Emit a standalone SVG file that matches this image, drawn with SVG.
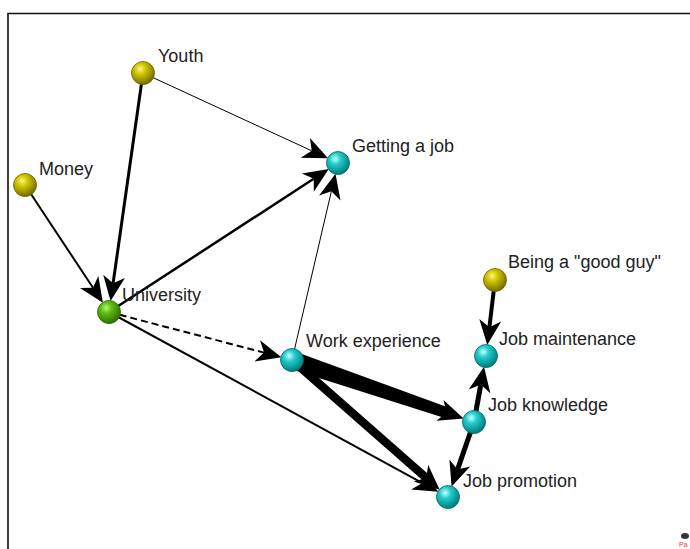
<svg xmlns="http://www.w3.org/2000/svg" width="690" height="549" viewBox="0 0 690 549">
<style>
.lbl{font-family:"Liberation Sans",Arial,sans-serif;font-size:18px;fill:#222}
.e{fill:none;stroke:#000;marker-end:url(#ah)}
.node{stroke-width:0.8}
</style>
<defs>
<marker id="ah" markerUnits="userSpaceOnUse" markerWidth="40" markerHeight="40" refX="0" refY="0" orient="auto" overflow="visible">
<path d="M18,0 L-7,-11 L0,0 L-7,11 Z" fill="#000"/>
</marker>
<radialGradient id="gc" cx="38%" cy="32%" r="70%">
<stop offset="0" stop-color="#c8ffff"/>
<stop offset="0.35" stop-color="#22cccc"/>
<stop offset="1" stop-color="#007a7a"/>
</radialGradient>
<radialGradient id="gy" cx="38%" cy="32%" r="70%">
<stop offset="0" stop-color="#fbf57a"/>
<stop offset="0.35" stop-color="#cfc400"/>
<stop offset="1" stop-color="#716a00"/>
</radialGradient>
<radialGradient id="gg" cx="38%" cy="32%" r="70%">
<stop offset="0" stop-color="#b8f27a"/>
<stop offset="0.35" stop-color="#5dbd10"/>
<stop offset="1" stop-color="#2f6d00"/>
</radialGradient>
</defs>
<rect width="690" height="549" fill="#fff"/>
<path d="M8,549 V13.5 H690" fill="none" stroke="#111" stroke-width="1.6"/>
<g id="connectors">
<path class="e" d="M143,73 L311.7,150.8" stroke-width="1"/>
<path class="e" d="M143,73 L113.1,283.3" stroke-width="3"/>
<path class="e" d="M25,185 L93,287.8" stroke-width="2"/>
<path class="e" d="M109,312 L313.7,178.8" stroke-width="2.5"/>
<path class="e" d="M109,312 L264,352.6" stroke-width="2" stroke-dasharray="7,4"/>
<path class="e" d="M109,312 L422.5,483.1" stroke-width="2"/>
<path class="e" d="M292,360 L331.4,191.2" stroke-width="1"/>
<polygon points="289.1,368.5 294.9,351.5 449.8,408 446.2,418.4" fill="#000"/>
<path class="e" d="M292,360 L446.6,412.7" stroke="none"/>
<path class="e" d="M292,360 L426.2,477.9" stroke-width="8.5"/>
<path class="e" d="M474,422 L480.8,384.5" stroke-width="5"/>
<path class="e" d="M474,422 L457.5,469.6" stroke-width="5"/>
<path class="e" d="M495,280 L489.4,327.2" stroke-width="4"/>
</g>
<g id="youth"><circle class="node" cx="143" cy="73" r="11.5" fill="url(#gy)" stroke="#6a6400"/><text class="lbl" x="158" y="62">Youth</text></g>
<g id="money"><circle class="node" cx="25" cy="185" r="11.5" fill="url(#gy)" stroke="#6a6400"/><text class="lbl" x="39" y="175">Money</text></g>
<g id="university"><circle class="node" cx="109" cy="312" r="11.5" fill="url(#gg)" stroke="#2c6400"/><text class="lbl" x="122" y="301">University</text></g>
<g id="getting-a-job"><circle class="node" cx="338" cy="163" r="11.5" fill="url(#gc)" stroke="#006868"/><text class="lbl" x="352" y="152">Getting a job</text></g>
<g id="work-experience"><circle class="node" cx="292" cy="360" r="11.5" fill="url(#gc)" stroke="#006868"/><text class="lbl" x="306" y="347">Work experience</text></g>
<g id="good-guy"><circle class="node" cx="495" cy="280" r="11.5" fill="url(#gy)" stroke="#6a6400"/><text class="lbl" x="508" y="268">Being a "good guy"</text></g>
<g id="job-maintenance"><circle class="node" cx="486" cy="356" r="11.5" fill="url(#gc)" stroke="#006868"/><text class="lbl" x="499" y="345">Job maintenance</text></g>
<g id="job-knowledge"><circle class="node" cx="474" cy="422" r="11.5" fill="url(#gc)" stroke="#006868"/><text class="lbl" x="488" y="411">Job knowledge</text></g>
<g id="job-promotion"><circle class="node" cx="448" cy="497" r="11.5" fill="url(#gc)" stroke="#006868"/><text class="lbl" x="463" y="487">Job promotion</text></g>
<g id="logo"><ellipse cx="685" cy="536" rx="4" ry="3" fill="#333"/><text x="679" y="547" font-family="Liberation Sans,sans-serif" font-size="7" fill="#f03030">Pa</text></g>
</svg>
